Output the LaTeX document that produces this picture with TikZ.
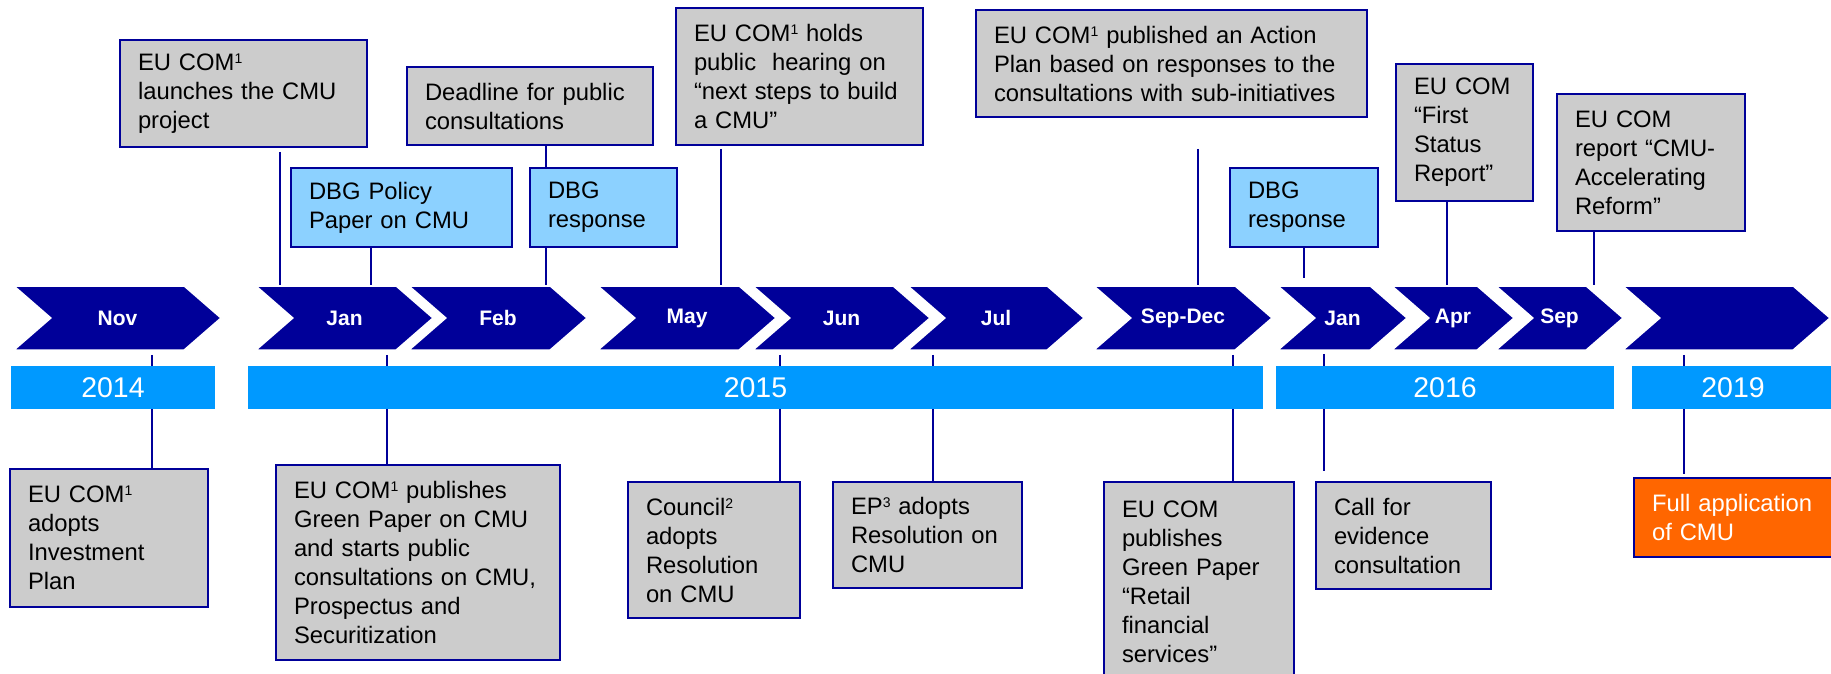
\documentclass[tikz,border=0pt]{standalone}
\usepackage{fontspec}
\setmainfont{Liberation Sans}
\usetikzlibrary{shapes.symbols,backgrounds}
\definecolor{marine}{RGB}{0,0,153}
\definecolor{gris}{RGB}{204,204,204}
\definecolor{bleuclair}{RGB}{140,209,255}
\definecolor{bleuan}{RGB}{0,153,255}
\definecolor{orangevif}{RGB}{255,102,0}
\newcommand{\expo}[1]{\raisebox{7pt}{\fontsize{14}{14}\selectfont #1}}
\begin{document}
\begin{tikzpicture}[x=1pt,y=-1pt]
            \tikzstyle{mois}=[signal,signal to=east,signal from=west,signal pointer angle=82,fill=marine,draw=white,line width=1.5pt,text=white,font=\fontsize{21}{25}\selectfont\bfseries,minimum height=64pt,inner sep=0pt]
            \tikzstyle{annee}=[fill=bleuan,text=white,font=\fontsize{28.5}{34}\selectfont,minimum height=43pt,inner sep=0pt]
            \tikzstyle{boite}=[draw=marine,line width=2pt,fill=gris,align=left,font=\fontsize{23.8}{29}\selectfont,inner xsep=18pt,inner ysep=0pt]
            \tikzstyle{dbg}=[boite,fill=bleuclair]
            \tikzstyle{lien}=[draw=marine,line width=1.5pt]
            \useasboundingbox (0,0) rectangle (1831,674);
            % les mois
            \node[mois,minimum width=207pt] (nov) at (117.5,318) {Nov};
            \node[mois,minimum width=177pt] (jan) at (344.5,318) {Jan};
            \node[mois,minimum width=178pt] (fev) at (498,318) {Feb};
            \node[mois,minimum width=178pt] (mai) at (687,318) {May};
            \node[mois,minimum width=177pt] (juin) at (841.5,318) {Jun};
            \node[mois,minimum width=176pt] (juil) at (996,318) {Jul};
            \node[mois,minimum width=178pt] (sepdec) at (1183,318) {Sep-Dec};
            \node[mois,minimum width=129pt] (jan2) at (1342.5,318) {Jan};
            \node[mois,minimum width=122pt] (avr) at (1453,318) {Apr};
            \node[mois,minimum width=127pt] (sep) at (1559.5,318) {Sep};
            \node[mois,minimum width=207pt] (fin) at (1726.5,318) {};
            % les annees
            \node[annee,minimum width=204pt] (a2014) at (113,387.5) {2014};
            \node[annee,minimum width=1015pt] (a2015) at (755.5,387.5) {2015};
            \node[annee,minimum width=338pt] (a2016) at (1445,387.5) {2016};
            \node[annee,minimum width=202pt] (a2019) at (1733,387.5) {2019};
            % en haut
            \node[boite,text width=211pt,minimum height=107pt] (lance) at (243.5,93.5) {EU COM\expo{1}\\launches the CMU\\project};
            \node[boite,text width=210pt,minimum height=78pt] (delai) at (530,106) {Deadline for public\\consultations};
            \node[dbg,text width=185pt,minimum height=79pt] (papier) at (401.5,207.5) {DBG Policy\\Paper on CMU};
            \node[dbg,text width=111pt,minimum height=79pt] (rep1) at (603.5,207.5) {DBG\\response};
            \node[boite,text width=211pt,minimum height=137pt] (audition) at (799.5,76.5) {EU COM\expo{1} holds\\public~ hearing on\\“next steps to build\\a CMU”};
            \node[boite,text width=355pt,minimum height=107pt] (plan) at (1171.5,63.5) {EU COM\expo{1} published an Action\\Plan based on responses to the\\consultations with sub-initiatives};
            \node[dbg,text width=112pt,minimum height=79pt] (rep2) at (1304,207.5) {DBG\\response};
            \node[boite,text width=101pt,minimum height=137pt] (statut) at (1464.5,132.5) {EU COM\\“First\\Status\\Report”};
            \node[boite,text width=152pt,minimum height=137pt] (accel) at (1651,162.5) {EU COM\\report “CMU-\\Accelerating\\Reform”};
            % en bas
            \node[boite,text width=162pt,minimum height=138pt] (invest) at (109,538) {EU COM\expo{1}\\adopts\\Investment\\Plan};
            \node[boite,text width=248pt,minimum height=195pt] (vert) at (418,562.5) {EU COM\expo{1} publishes\\Green Paper on CMU\\and starts public\\consultations on CMU,\\Prospectus and\\Securitization};
            \node[boite,text width=136pt,minimum height=136pt] (conseil) at (714,550) {Council\expo{2}\\adopts\\Resolution\\on CMU};
            \node[boite,text width=153pt,minimum height=106pt] (ep) at (927.5,535) {EP\expo{3} adopts\\Resolution on\\CMU};
            \node[boite,text width=154pt,minimum height=200pt] (detail) at (1199,582) {EU COM\\publishes\\Green Paper\\“Retail\\financial\\services”};
            \node[boite,text width=139pt,minimum height=107pt] (appel) at (1403.5,535.5) {Call for\\evidence\\consultation};
            \node[boite,fill=orangevif,text=white,text width=175pt,minimum height=79pt] (pleine) at (1739.5,517.5) {Full application\\of CMU};
            % les traits
            \begin{scope}[on background layer]
            \draw[lien,shorten <=4pt] (lance.south -| 280,0) -- (jan.north -| 280,0);
            \draw[lien] (papier.south -| 371,0) -- (jan.north -| 371,0);
            \draw[lien] (delai.south -| 546,0) -- (fev.north -| 546,0);
            \draw[lien,shorten <=3pt] (audition.south -| 721,0) -- (mai.north -| 721,0);
            \draw[lien,shorten <=31pt] (plan.south -| 1198,0) -- (sepdec.north -| 1198,0);
            \draw[lien,shorten >=7pt] (rep2.south -| 1304,0) -- (jan2.north -| 1304,0);
            \draw[lien] (statut.south -| 1447,0) -- (avr.north -| 1447,0);
            \draw[lien] (accel.south -| 1594,0) -- (sep.north -| 1594,0);
            \draw[lien,shorten <=4pt] (nov.south -| 152,0) -- (invest.north -| 152,0);
            \draw[lien,shorten <=4pt] (jan.south -| 387,0) -- (vert.north -| 387,0);
            \draw[lien,shorten <=4pt] (juin.south -| 780,0) -- (conseil.north -| 780,0);
            \draw[lien,shorten <=4pt] (juil.south -| 933,0) -- (ep.north -| 933,0);
            \draw[lien,shorten <=4pt] (sepdec.south -| 1233,0) -- (detail.north -| 1233,0);
            \draw[lien,shorten <=3pt,shorten >=10pt] (jan2.south -| 1324,0) -- (appel.north -| 1324,0);
            \draw[lien,shorten <=4pt,shorten >=3pt] (fin.south -| 1684,0) -- (pleine.north -| 1684,0);
            \end{scope}
\end{tikzpicture}
\end{document}
